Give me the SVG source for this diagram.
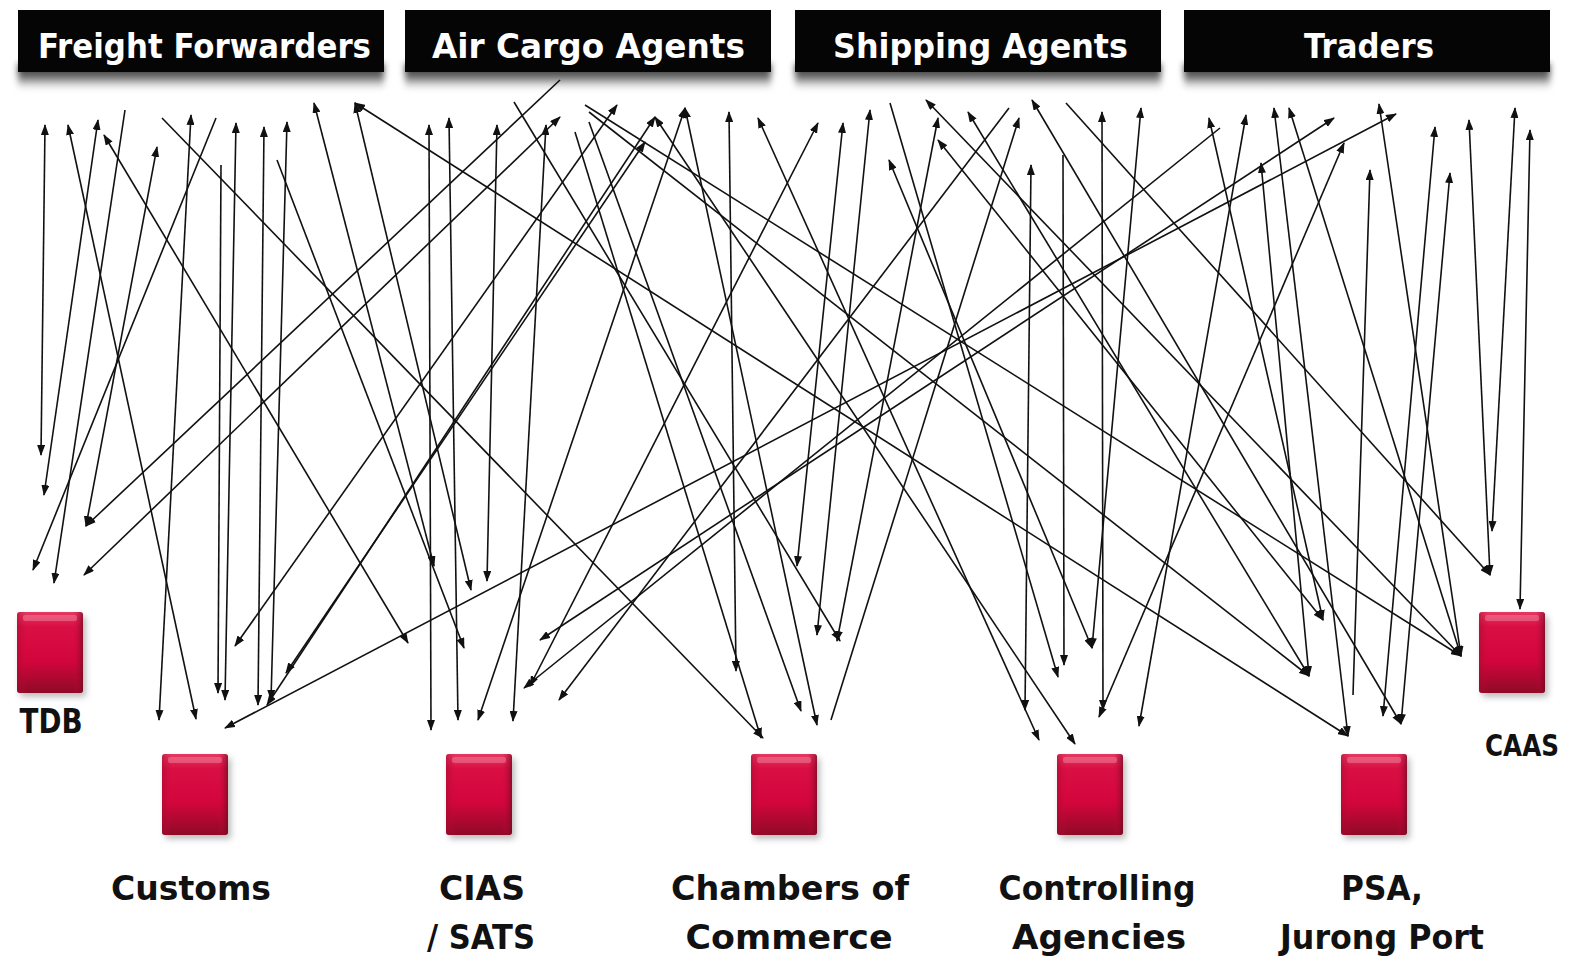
<svg xmlns="http://www.w3.org/2000/svg" width="1583" height="959" viewBox="0 0 1583 959">
<defs>
<style>
.bar{fill:#050505}
.bt{fill:#ffffff;font-family:"DejaVu Sans","Liberation Sans",sans-serif;font-size:33px;font-weight:bold}
.lb{fill:#111111;font-family:"DejaVu Sans","Liberation Sans",sans-serif;font-size:34px;font-weight:bold}
.c path{fill:none;stroke:#111111;stroke-width:1.6}
.b{marker-start:url(#ah);marker-end:url(#ah)}
.e{marker-end:url(#ah)}
.s{marker-start:url(#ah)}
</style>
<marker id="ah" markerUnits="userSpaceOnUse" markerWidth="11" markerHeight="8" refX="10" refY="4" orient="auto-start-reverse">
<path d="M0,0 L11,4 L0,8 z" fill="#111111"/>
</marker>
<linearGradient id="red" x1="0" y1="0" x2="0" y2="1">
<stop offset="0" stop-color="#e43a62"/>
<stop offset="0.18" stop-color="#d90f44"/>
<stop offset="0.6" stop-color="#d3063c"/>
<stop offset="1" stop-color="#8f0a26"/>
</linearGradient>
<linearGradient id="redside" x1="0" y1="0" x2="1" y2="0">
<stop offset="0" stop-color="#9a0c2c" stop-opacity="0.5"/>
<stop offset="0.15" stop-color="#d3063c" stop-opacity="0"/>
<stop offset="0.85" stop-color="#d3063c" stop-opacity="0"/>
<stop offset="1" stop-color="#6e0a20" stop-opacity="0.7"/>
</linearGradient>
<linearGradient id="barsh" x1="0" y1="0" x2="0" y2="1">
<stop offset="0" stop-color="#1a1a1a"/>
<stop offset="0.5" stop-color="#777777"/>
<stop offset="1" stop-color="#ffffff" stop-opacity="0"/>
</linearGradient>
<filter id="blur" x="-20%" y="-20%" width="140%" height="140%"><feGaussianBlur stdDeviation="3"/></filter>
<g id="box">
<rect x="3" y="4" width="66" height="81" rx="3" fill="#6d6d6d" opacity="0.45" filter="url(#blur)"/>
<rect x="0" y="0" width="66" height="81" rx="3" fill="url(#red)"/>
<rect x="0" y="0" width="66" height="81" rx="3" fill="url(#redside)"/>
<rect x="6" y="3" width="54" height="6" rx="2" fill="#f07c96" opacity="0.55"/>
</g>
<g id="hdr">
<rect x="0" y="54" width="366" height="28" fill="url(#barsh)" filter="url(#blur)"/>
<rect x="0" y="0" width="366" height="62" class="bar"/>
</g>
</defs>
<rect x="0" y="0" width="1583" height="959" fill="#ffffff"/>

<g id="freight-forwarders">
<use href="#hdr" x="18" y="10"/>
<text class="bt" x="38" y="58" textLength="333" lengthAdjust="spacingAndGlyphs">Freight Forwarders</text>
</g>
<g id="air-cargo-agents">
<use href="#hdr" x="405" y="10"/>
<text class="bt" x="432" y="58" textLength="313" lengthAdjust="spacingAndGlyphs">Air Cargo Agents</text>
</g>
<g id="shipping-agents">
<use href="#hdr" x="795" y="10"/>
<text class="bt" x="833" y="58" textLength="295" lengthAdjust="spacingAndGlyphs">Shipping Agents</text>
</g>
<g id="traders">
<use href="#hdr" x="1184" y="10"/>
<text class="bt" x="1304" y="58" textLength="130" lengthAdjust="spacingAndGlyphs">Traders</text>
</g>

<g id="connectors" class="c">
<path class="b" d="M45,125 L41,455"/>
<path class="b" d="M68,125 L196,719"/>
<path class="b" d="M98,120 L44,495"/>
<path class="b" d="M104,135 L408,643"/>
<path class="e" d="M125,110 L54,583"/>
<path class="b" d="M157,147 L86,526"/>
<path class="e" d="M162,118 L763,738"/>
<path class="b" d="M191,115 L159,720"/>
<path class="e" d="M216,118 L33,570"/>
<path class="e" d="M221,165 L218,693"/>
<path class="b" d="M236,123 L225,700"/>
<path class="b" d="M264,127 L258,705"/>
<path class="e" d="M277,160 L464,648"/>
<path class="b" d="M287,122 L271,700"/>
<path class="b" d="M314,103 L434,566"/>
<path class="b" d="M355,103 L471,590"/>
<path class="b" d="M355,103 L1348,736"/>
<path class="b" d="M429,125 L431,730"/>
<path class="b" d="M449,118 L458,720"/>
<path class="b" d="M497,125 L487,581"/>
<path class="e" d="M514,102 L840,641"/>
<path class="e" d="M560,80 L86,526"/>
<path class="b" d="M546,125 L513,721"/>
<path class="b" d="M560,117 L84,575"/>
<path class="e" d="M585,105 L1461,656"/>
<path class="e" d="M589,112 L1309,676"/>
<path class="e" d="M575,132 L761,738"/>
<path class="e" d="M589,122 L801,711"/>
<path class="b" d="M617,105 L235,646"/>
<path class="b" d="M645,142 L286,673"/>
<path class="b" d="M655,117 L267,705"/>
<path class="b" d="M655,117 L1075,744"/>
<path class="b" d="M685,108 L817,725"/>
<path class="b" d="M685,108 L478,720"/>
<path class="b" d="M729,112 L736,671"/>
<path class="b" d="M758,118 L1039,740"/>
<path class="b" d="M818,123 L530,686"/>
<path class="b" d="M843,123 L797,566"/>
<path class="b" d="M870,110 L817,635"/>
<path class="e" d="M890,103 L1058,677"/>
<path class="b" d="M889,160 L1092,648"/>
<path class="b" d="M926,100 L1461,656"/>
<path class="b" d="M938,118 L837,641"/>
<path class="b" d="M938,140 L1323,620"/>
<path class="b" d="M968,112 L1309,676"/>
<path class="e" d="M1009,108 L559,700"/>
<path class="s" d="M1019,118 L831,720"/>
<path class="b" d="M1032,100 L1401,724"/>
<path class="b" d="M1031,165 L1025,710"/>
<path class="e" d="M1066,103 L1490,575"/>
<path class="e" d="M1063,155 L1064,665"/>
<path class="b" d="M1141,108 L1092,648"/>
<path class="b" d="M1246,115 L1139,726"/>
<path class="b" d="M1344,143 L1099,717"/>
<path class="b" d="M1102,112 L1103,710"/>
<path class="b" d="M1209,118 L1323,620"/>
<path class="e" d="M1220,128 L524,688"/>
<path class="b" d="M1261,163 L1309,676"/>
<path class="b" d="M1274,108 L1348,736"/>
<path class="b" d="M1289,108 L1461,656"/>
<path class="b" d="M1334,118 L540,640"/>
<path class="b" d="M1379,104 L1461,656"/>
<path class="b" d="M1396,114 L225,728"/>
<path class="s" d="M1370,170 L1353,695"/>
<path class="b" d="M1435,127 L1383,716"/>
<path class="b" d="M1450,173 L1401,724"/>
<path class="b" d="M1469,120 L1490,575"/>
<path class="b" d="M1515,108 L1492,531"/>
<path class="b" d="M1530,130 L1520,609"/>
</g>

<g id="tdb">
<use href="#box" x="17" y="612"/>
<text class="lb" x="51" y="733" text-anchor="middle" textLength="63" lengthAdjust="spacingAndGlyphs">TDB</text>
</g>
<g id="customs">
<use href="#box" x="162" y="754"/>
<text class="lb" x="191" y="900" text-anchor="middle" textLength="160" lengthAdjust="spacingAndGlyphs">Customs</text>
</g>
<g id="cias-sats">
<use href="#box" x="446" y="754"/>
<text class="lb" x="482" y="900" text-anchor="middle" textLength="86" lengthAdjust="spacingAndGlyphs">CIAS</text>
<text class="lb" x="481" y="949" text-anchor="middle" textLength="108" lengthAdjust="spacingAndGlyphs">/ SATS</text>
</g>
<g id="chambers-of-commerce">
<use href="#box" x="751" y="754"/>
<text class="lb" x="790" y="900" text-anchor="middle" textLength="238" lengthAdjust="spacingAndGlyphs">Chambers of</text>
<text class="lb" x="789" y="949" text-anchor="middle" textLength="207" lengthAdjust="spacingAndGlyphs">Commerce</text>
</g>
<g id="controlling-agencies">
<use href="#box" x="1057" y="754"/>
<text class="lb" x="1097" y="900" text-anchor="middle" textLength="197" lengthAdjust="spacingAndGlyphs">Controlling</text>
<text class="lb" x="1099" y="949" text-anchor="middle" textLength="174" lengthAdjust="spacingAndGlyphs">Agencies</text>
</g>
<g id="psa-jurong-port">
<use href="#box" x="1341" y="754"/>
<text class="lb" x="1382" y="900" text-anchor="middle" textLength="82" lengthAdjust="spacingAndGlyphs">PSA,</text>
<text class="lb" x="1382" y="949" text-anchor="middle" textLength="204" lengthAdjust="spacingAndGlyphs">Jurong Port</text>
</g>
<g id="caas">
<use href="#box" x="1479" y="612"/>
<text class="lb" x="1522" y="756" text-anchor="middle" textLength="74" lengthAdjust="spacingAndGlyphs" style="font-size:30px">CAAS</text>
</g>
</svg>
